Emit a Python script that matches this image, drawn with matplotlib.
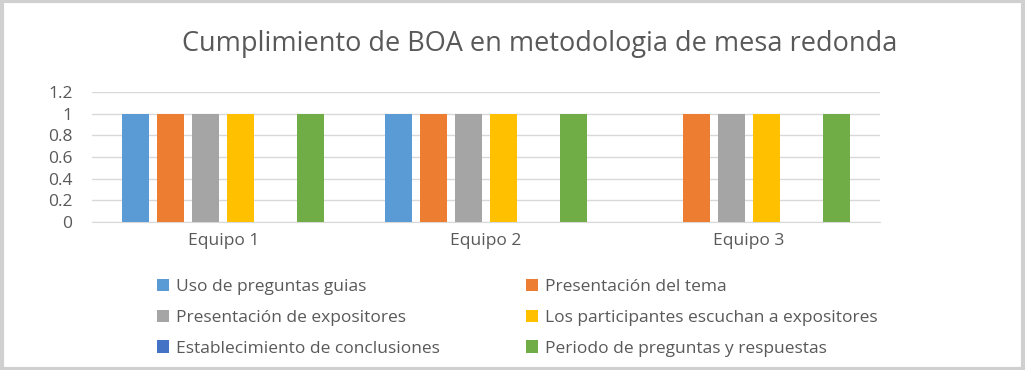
import matplotlib
matplotlib.use('Agg')
import matplotlib.pyplot as plt
import numpy as np
from matplotlib.patches import Rectangle

# Data
categories = ['Equipo 1', 'Equipo 2', 'Equipo 3']
series_names = ['Uso de preguntas guias', 'Presentación del tema',
                'Presentación de expositores', 'Los participantes escuchan a expositores',
                'Establecimiento de conclusiones', 'Periodo de preguntas y respuestas']
uso = [1, 1, 0]
tema = [1, 1, 1]
expositores = [1, 1, 1]
escuchan = [1, 1, 1]
conclusiones = [0, 0, 0]
periodo = [1, 1, 1]
y_ticks = [0, 0.2, 0.4, 0.6, 0.8, 1, 1.2]
y_labels = ['0', '0.2', '0.4', '0.6', '0.8', '1', '1.2']

colors = ['#5b9bd5', '#ed7d31', '#a5a5a5', '#ffc000', '#4472c4', '#70ad47']
text_col = '#595959'

plt.rcParams['font.family'] = ['Open Sans', 'DejaVu Sans']

fig = plt.figure(figsize=(10.25, 3.7), dpi=100)
ax = fig.add_axes([0.0898, 0.40, 0.7687, 0.351])

values = [uso, tema, expositores, escuchan, conclusiones, periodo]
x = np.arange(len(categories))
pitch = 0.1333
width = 0.103
handles = []
for i, (vals, c, name) in enumerate(zip(values, colors, series_names)):
    b = ax.bar(x + (i - 2.5) * pitch, vals, width, color=c, label=name, zorder=3)
    handles.append(b)

ax.set_xlim(-0.5, 2.5)
ax.set_ylim(0, 1.2)
ax.set_yticks(y_ticks)
ax.set_yticklabels(y_labels)
ax.set_xticks(x)
ax.set_xticklabels(categories)
ax.grid(axis='y', color='#d9d9d9', linewidth=1, zorder=0)
for s in ['top', 'right', 'left']:
    ax.spines[s].set_visible(False)
ax.spines['bottom'].set_color('#d9d9d9')
ax.tick_params(axis='both', length=0, labelsize=12.5, colors=text_col)
ax.tick_params(axis='y', pad=14)
ax.tick_params(axis='x', pad=8)

fig.text(540 / 1025, 1 - 44 / 370, 'Cumplimiento de BOA en metodologia de mesa redonda',
         ha='center', va='center', fontsize=19.5, color=text_col)

leg_kw = dict(frameon=False, fontsize=12.5, labelcolor=text_col, handlelength=0.7,
              handleheight=0.7, handletextpad=0.4, labelspacing=0.84, borderaxespad=0)
l1 = fig.legend([handles[0], handles[2], handles[4]],
                [series_names[0], series_names[2], series_names[4]],
                loc='upper left', bbox_to_anchor=(150 / 1025, 1 - 272 / 370), **leg_kw)
l2 = fig.legend([handles[1], handles[3], handles[5]],
                [series_names[1], series_names[3], series_names[5]],
                loc='upper left', bbox_to_anchor=(519 / 1025, 1 - 272 / 370), **leg_kw)

fig.patches.append(Rectangle((0.002, 0.004), 0.996, 0.992, transform=fig.transFigure,
                             fill=False, edgecolor='#d0d0d0', linewidth=3))

fig.savefig('out.png', dpi=100, facecolor='white')
